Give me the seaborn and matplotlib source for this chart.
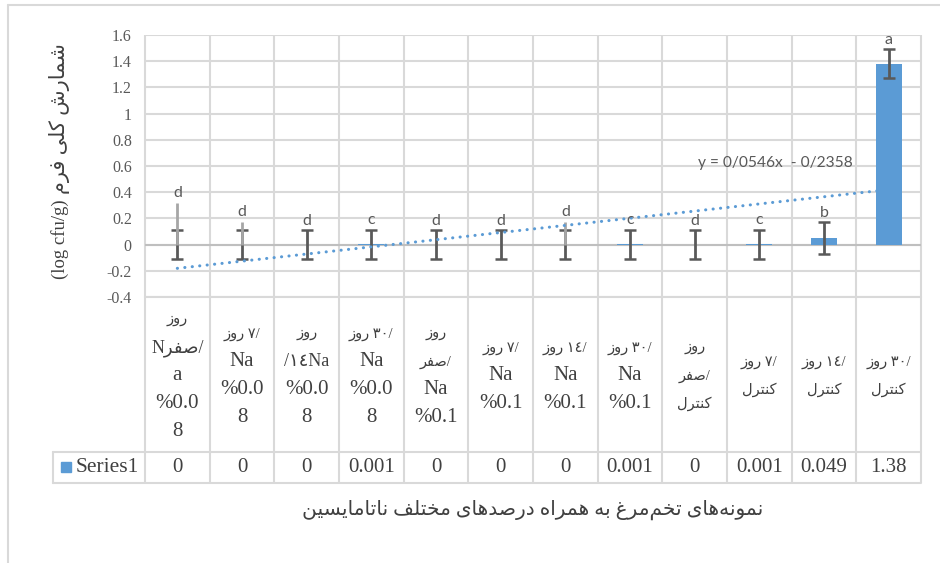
"""Total count bar chart with Excel-style data table (egg samples, natamycin)."""

import matplotlib

matplotlib.use("Agg")
import matplotlib.pyplot as plt
import matplotlib.transforms as mtransforms
import numpy as np
import pandas as pd
import seaborn as sns
from matplotlib.lines import Line2D
from matplotlib.patches import Rectangle

# ---- data -----------------------------------------------------------------
sample_ids = ["s1", "s2", "s3", "s4", "s5", "s6", "s7", "s8", "s9", "s10", "s11", "s12"]
values = [0, 0, 0, 0.001, 0, 0, 0, 0.001, 0, 0.001, 0.049, 1.38]
errors = [0.11, 0.11, 0.11, 0.11, 0.11, 0.11, 0.11, 0.11, 0.11, 0.11, 0.12, 0.11]
light_errors = [0.32, 0.175, 0, 0, 0, 0, 0.175, 0, 0, 0, 0, 0]
letters = ["d", "d", "d", "c", "d", "d", "d", "c", "d", "c", "b", "a"]
series_name = "Series1"
trend_label = "y = 0/0546x  - 0/2358"

BLUE = "#5B9BD5"
GRID = "#d9d9d9"
TEXT = "#404040"
TICK = "#595959"

# ---- minimal Arabic/Persian shaping (matplotlib has no RTL layout) --------
# isolated, final, initial, medial; right-joining letters only have two forms
FORMS = {
    "ا": "\ufe8d\ufe8e",
    "ب": "\ufe8f\ufe90\ufe91\ufe92",
    "ت": "\ufe95\ufe96\ufe97\ufe98",
    "خ": "\ufea5\ufea6\ufea7\ufea8",
    "د": "\ufea9\ufeaa",
    "ر": "\ufead\ufeae",
    "ز": "\ufeaf\ufeb0",
    "س": "\ufeb1\ufeb2\ufeb3\ufeb4",
    "ش": "\ufeb5\ufeb6\ufeb7\ufeb8",
    "ص": "\ufeb9\ufeba\ufebb\ufebc",
    "غ": "\ufecd\ufece\ufecf\ufed0",
    "ف": "\ufed1\ufed2\ufed3\ufed4",
    "ک": "\ufb8e\ufb8f\ufb90\ufb91",
    "ل": "\ufedd\ufede\ufedf\ufee0",
    "م": "\ufee1\ufee2\ufee3\ufee4",
    "ن": "\ufee5\ufee6\ufee7\ufee8",
    "ه": "\ufee9\ufeea\ufeeb\ufeec",
    "و": "\ufeed\ufeee",
    "ی": "\ufbfc\ufbfd\ufbfe\ufbff",
}


def rtl(text):
    chars = list(text)
    out = []
    for i, ch in enumerate(chars):
        forms = FORMS.get(ch)
        if forms is None:
            if ch != "\u200c":
                out.append(ch)
            continue
        prev = chars[i - 1] if i > 0 else ""
        nxt = chars[i + 1] if i + 1 < len(chars) else ""
        join_prev = prev in FORMS and len(FORMS[prev]) == 4
        join_next = nxt in FORMS and len(forms) == 4
        if join_prev and join_next:
            out.append(forms[3])
        elif join_prev:
            out.append(forms[1])
        elif join_next:
            out.append(forms[2])
        else:
            out.append(forms[0])
    return "".join(reversed(out))


ROOZ = rtl("روز")
SEFR = rtl("صفر")
CONTROL = rtl("کنترل")
category_labels = [
    [ROOZ, "N" + SEFR + "/", "a", "%0.0", "8"],
    [ROOZ + " \u0667/", "Na", "%0.0", "8"],
    [ROOZ, "/\u0661\u0664Na", "%0.0", "8"],
    [ROOZ + " \u0663\u0660/", "Na", "%0.0", "8"],
    [ROOZ, SEFR + "/", "Na", "%0.1"],
    [ROOZ + " \u0667/", "Na", "%0.1"],
    [ROOZ + " \u0661\u0664/", "Na", "%0.1"],
    [ROOZ + " \u0663\u0660/", "Na", "%0.1"],
    [ROOZ, SEFR + "/", CONTROL],
    [ROOZ + " \u0667/", CONTROL],
    [ROOZ + " \u0661\u0664/", CONTROL],
    [ROOZ + " \u0663\u0660/", CONTROL],
]
x_title = rtl("نمونه\u200cهای تخم\u200cمرغ به همراه درصدهای مختلف ناتامایسین")
y_title_fa = rtl("شمارش کلی فرم")
y_title_unit = "(log cfu/g)"

# ---- figure ---------------------------------------------------------------
sns.set_theme(style="white")
plt.rcParams["font.family"] = ["Liberation Serif", "DejaVu Sans"]

W, H = 940, 563
fig = plt.figure(figsize=(W / 100, H / 100), dpi=100)
fig.patch.set_facecolor("white")


def fx(px):
    return px / W


def fy(py):
    return 1 - py / H


ax = fig.add_axes([fx(145), fy(297), fx(921) - fx(145), fy(35) - fy(297)])

pos = np.arange(len(values))
df = pd.DataFrame({"pos": pos, "count": values, "sample": sample_ids})

sns.barplot(
    data=df, x="pos", y="count", native_scale=True, color=BLUE,
    saturation=1, width=0.4, errorbar=None, linewidth=0, ax=ax, zorder=2,
)
ax.errorbar(
    pos, values, yerr=errors, fmt="none", ecolor=TICK,
    elinewidth=2, capsize=4, capthick=1.8, zorder=3,
)
ax.errorbar(
    pos, values, yerr=[np.zeros(len(values)), light_errors], fmt="none",
    ecolor="#a6a6a6", elinewidth=2, capsize=0, zorder=4,
)

sns.regplot(
    x=pos, y=np.array(values), ax=ax, scatter=False, ci=None, truncate=True,
    line_kws=dict(color=BLUE, lw=2.2, linestyle=(0, (0.05, 2.4)),
                  dash_capstyle="round", zorder=5),
)

for i, letter in enumerate(letters):
    top = values[i] + max(errors[i], light_errors[i])
    ax.text(i, top + 0.02, letter, ha="center", va="bottom", fontsize=11.5,
            color=TICK, family="Lato", zorder=6)

ax.text(0.812, 0.51, trend_label, transform=ax.transAxes, ha="center",
        va="center", fontsize=11.2, color=TICK, family="Lato")

ax.set_xlim(-0.5, len(values) - 0.5)
ax.set_ylim(-0.4, 1.6)
ax.set_yticks(np.arange(-0.4, 1.61, 0.2))
ax.yaxis.set_major_formatter(plt.FuncFormatter(lambda v, _: f"{round(v, 1):g}"))
ax.tick_params(axis="y", length=0, pad=9.5, labelsize=11.5, labelcolor=TICK)
ax.set_xticks([])
ax.set_xlabel("")
ax.set_ylabel("")
ax.grid(axis="y", color=GRID, lw=1.5, zorder=0)
ax.set_axisbelow(True)
ax.axhline(0, color="#bfbfbf", lw=1.5, zorder=1)
for s in ax.spines.values():
    s.set_visible(False)

# ---- data table -----------------------------------------------------------
trans = mtransforms.blended_transform_factory(ax.transData, ax.transAxes)
ax_h = 297 - 35


def ay(py):
    return (297 - py) / ax_h


ax.vlines(np.arange(-0.5, len(values)), ay(483), 1, transform=trans,
          color=GRID, lw=1.5, clip_on=False, zorder=0)
for py in (297, 452, 483):
    x0 = 145 if py == 297 else 53
    fig.add_artist(Line2D([fx(x0), fx(921)], [fy(py), fy(py)], color=GRID, lw=1.5))
fig.add_artist(Line2D([fx(53), fx(53)], [fy(452), fy(483)], color=GRID, lw=1.5))


def line_size(line):
    has_latin = any(c.isascii() and c.isalpha() for c in line)
    has_arabic = any(ord(c) > 0x600 for c in line)
    if has_arabic and has_latin:
        return 13
    if has_arabic:
        return 10.5
    return 15


LINE_PITCH = 28
for i, lines in enumerate(category_labels):
    n = len(lines)
    for j, line in enumerate(lines):
        py = 376 + (j - (n - 1) / 2) * LINE_PITCH
        ax.text(i, ay(py), line, transform=trans, ha="center", va="center",
                fontsize=line_size(line), color=TEXT, clip_on=False)
    ax.text(i, ay(467.5), f"{values[i]:g}", transform=trans, ha="center",
            va="center", fontsize=15, color=TEXT, clip_on=False)

fig.add_artist(Rectangle((fx(61), fy(472)), fx(10), 10 / H, color=BLUE,
                         transform=fig.transFigure))
fig.text(fx(76), fy(467.5), series_name, ha="left", va="center",
         fontsize=15.5, color=TEXT)

# axis titles
fig.text(fx(533), fy(510), x_title, ha="center", va="center",
         fontsize=14.5, color=TEXT)
fig.text(fx(60), fy(199), y_title_unit, ha="center", va="top", rotation=90,
         fontsize=13.5, color=TEXT)
fig.text(fx(60), fy(194), y_title_fa, ha="center", va="bottom", rotation=90,
         fontsize=15, color=TEXT)

# chart area border
fig.add_artist(Line2D([fx(8), fx(8)], [fy(5), 0], color=GRID, lw=1.5))
fig.add_artist(Line2D([fx(8), 1], [fy(5), fy(5)], color=GRID, lw=1.5))

fig.savefig("out.png", dpi=100, facecolor="white")
